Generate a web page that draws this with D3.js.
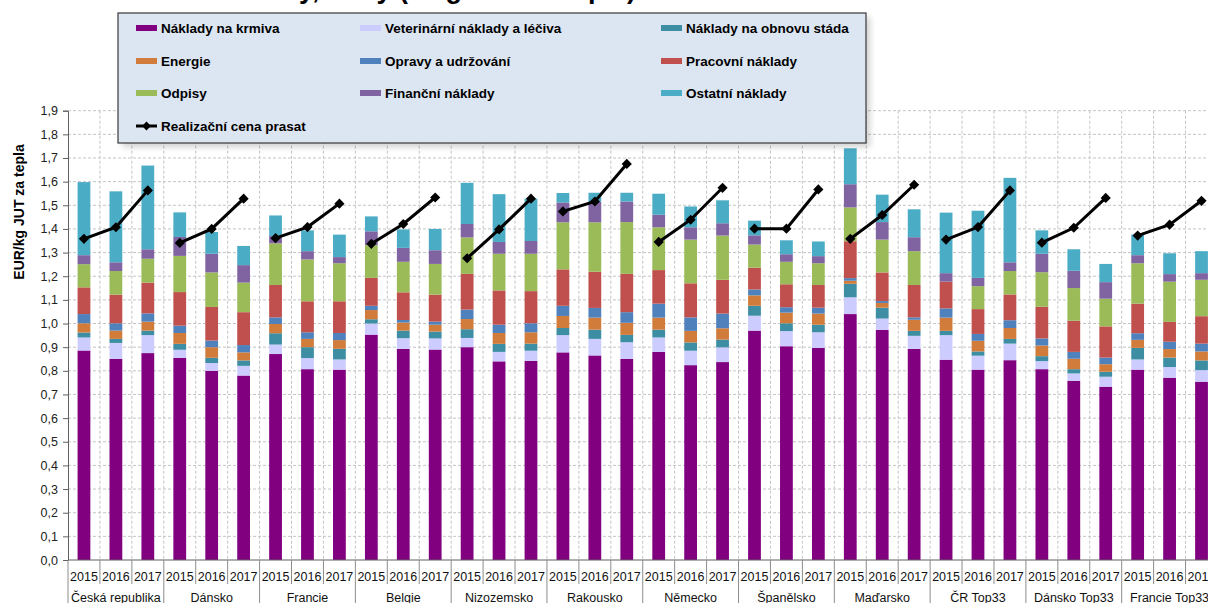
<!DOCTYPE html>
<html>
<head>
<meta charset="utf-8">
<script src="https://cdn.jsdelivr.net/npm/d3@7"></script>
<style>
  body { margin: 0; background: #fff; }
  svg { display: block; font-family: Arial, "Liberation Sans", sans-serif; }
</style>
</head>
<body>
<svg id="chart"></svg>
<script>
const width = 1208;
const height = 603;

// categories
const groups = ["Česká republika", "Dánsko", "Francie", "Belgie", "Nizozemsko", "Rakousko",
                "Německo", "Španělsko", "Maďarsko", "ČR Top33", "Dánsko Top33", "Francie Top33"];
const years = ["2015", "2016", "2017"];

// series values (EUR/kg JUT), one per bar, group by group
const krmiva    = [0.886,0.850,0.875, 0.855,0.800,0.780, 0.871,0.807,0.805, 0.953,0.893,0.890, 0.900,0.840,0.842, 0.878,0.865,0.850, 0.880,0.824,0.837, 0.970,0.904,0.897, 1.040,0.973,0.893, 0.847,0.805,0.845, 0.807,0.758,0.733, 0.805,0.771,0.754];
const veterina  = [0.055,0.068,0.076, 0.034,0.033,0.041, 0.040,0.047,0.043, 0.047,0.045,0.047, 0.039,0.040,0.043, 0.073,0.070,0.071, 0.061,0.061,0.062, 0.063,0.064,0.066, 0.071,0.048,0.055, 0.104,0.059,0.070, 0.034,0.031,0.042, 0.043,0.045,0.049];
const obnova    = [0.021,0.017,0.019, 0.025,0.022,0.023, 0.048,0.046,0.045, 0.018,0.032,0.029, 0.037,0.034,0.030, 0.030,0.039,0.031, 0.033,0.035,0.033, 0.042,0.033,0.032, 0.057,0.046,0.021, 0.018,0.018,0.020, 0.021,0.018,0.021, 0.049,0.040,0.041];
const energie   = [0.039,0.035,0.038, 0.046,0.045,0.034, 0.039,0.035,0.037, 0.039,0.034,0.029, 0.043,0.046,0.048, 0.051,0.051,0.051, 0.051,0.049,0.048, 0.044,0.045,0.047, 0.013,0.020,0.047, 0.056,0.045,0.046, 0.045,0.044,0.032, 0.034,0.036,0.038];
const opravy    = [0.039,0.031,0.035, 0.031,0.028,0.031, 0.028,0.028,0.030, 0.018,0.011,0.013, 0.040,0.035,0.038, 0.043,0.041,0.045, 0.059,0.057,0.062, 0.025,0.023,0.025, 0.011,0.008,0.010, 0.039,0.029,0.033, 0.030,0.029,0.028, 0.028,0.031,0.033];
const pracovni  = [0.113,0.121,0.130, 0.142,0.142,0.139, 0.137,0.131,0.134, 0.118,0.117,0.114, 0.151,0.145,0.136, 0.154,0.153,0.162, 0.142,0.144,0.143, 0.092,0.097,0.096, 0.156,0.121,0.137, 0.113,0.105,0.109, 0.134,0.132,0.132, 0.125,0.084,0.116];
const odpisy    = [0.098,0.100,0.101, 0.153,0.146,0.125, 0.176,0.177,0.161, 0.138,0.129,0.130, 0.154,0.155,0.158, 0.199,0.209,0.219, 0.181,0.185,0.187, 0.098,0.095,0.092, 0.143,0.139,0.143, 0.000,0.097,0.099, 0.146,0.138,0.117, 0.171,0.170,0.154];
const financni  = [0.038,0.037,0.040, 0.080,0.079,0.074, 0.031,0.035,0.026, 0.059,0.059,0.058, 0.057,0.050,0.054, 0.084,0.088,0.087, 0.053,0.052,0.052, 0.039,0.032,0.030, 0.098,0.074,0.059, 0.036,0.035,0.037, 0.078,0.073,0.070, 0.034,0.032,0.028];
const ostatni   = [0.309,0.300,0.354, 0.104,0.092,0.081, 0.087,0.088,0.095, 0.063,0.078,0.090, 0.174,0.202,0.179, 0.040,0.037,0.037, 0.089,0.088,0.097, 0.062,0.059,0.062, 0.152,0.116,0.118, 0.256,0.284,0.357, 0.099,0.091,0.077, 0.087,0.088,0.093];
const cenaPrasat = [1.358,1.407,1.563, 1.341,1.400,1.528, 1.361,1.408,1.507, 1.337,1.421,1.533, 1.276,1.398,1.528, 1.474,1.516,1.675, 1.345,1.439,1.574, 1.401,1.401,1.567, 1.358,1.459,1.587, 1.355,1.408,1.563, 1.342,1.405,1.531, 1.372,1.418,1.519];

const seriesNames = ["Náklady na krmiva", "Veterinární náklady a léčiva", "Náklady na obnovu stáda",
                     "Energie", "Opravy a udržování", "Pracovní náklady",
                     "Odpisy", "Finanční náklady", "Ostatní náklady"];
const seriesValues = [krmiva, veterina, obnova, energie, opravy, pracovni, odpisy, financni, ostatni];
const seriesColors = ["#800080", "#ccccff", "#3d8ea3", "#d27c3b", "#4f81bd", "#c0504d", "#9bbb59", "#8064a2", "#4bacc6"];
const lineName = "Realizační cena prasat";
const yTicks = [0, 0.1, 0.2, 0.3, 0.4, 0.5, 0.6, 0.7, 0.8, 0.9, 1.0, 1.1, 1.2, 1.3, 1.4, 1.5, 1.6, 1.7, 1.8, 1.9];

const plotLeft = 68;
const step = 31.93;
const plotRight = plotLeft + step * groups.length * years.length;
const plotTop = 110.7;
const plotBottom = 560;

var svg = d3.select("#chart")
            .attr("width", width)
            .attr("height", height);

svg.append("rect").attr("width", width).attr("height", height).attr("fill", "#fff");

// one row per bar
var rows = [];
groups.forEach((g, gi) => {
    years.forEach((yr, yi) => {
        var i = gi * years.length + yi;
        var row = { idx: i, group: g, year: yr, price: cenaPrasat[i] };
        seriesNames.forEach((s, si) => row[s] = seriesValues[si][i]);
        rows.push(row);
    });
});

var x = d3.scaleBand()
          .domain(rows.map(d => d.idx))
          .range([plotLeft, plotRight])
          .paddingInner(0.6)
          .paddingOuter(0.3);

var y = d3.scaleLinear()
          .domain([0, 1.9])
          .range([plotBottom, plotTop]);

//title, cut off by the top edge and mostly hidden behind the legend
svg.append("text")
    .attr("x", 636)
    .attr("y", -2)
    .attr("text-anchor", "end")
    .attr("font-size", 27)
    .attr("font-weight", "bold")
    .attr("fill", "#000")
    .text("Náklady, tržby (€/kg JUT za tepla)");

//grid
var grid = svg.append("g");
grid.selectAll(".hgrid")
    .data(yTicks.slice(1))
    .enter().append("line")
    .attr("x1", plotLeft).attr("x2", plotRight)
    .attr("y1", d => y(d)).attr("y2", d => y(d))
    .attr("stroke", "#c4c4c4")
    .attr("stroke-dasharray", "3,2");
grid.selectAll(".vgrid")
    .data(rows.slice(1))
    .enter().append("line")
    .attr("x1", d => x(d.idx) - x.step() * x.paddingInner() / 2)
    .attr("x2", d => x(d.idx) - x.step() * x.paddingInner() / 2)
    .attr("y1", plotTop).attr("y2", plotBottom)
    .attr("stroke", "#c4c4c4")
    .attr("stroke-dasharray", "3,2");

//stacked bars
var stack = d3.stack().keys(seriesNames);
var layers = stack(rows);

svg.append("g")
    .selectAll("g")
    .data(layers)
    .enter().append("g")
    .attr("fill", (d, i) => seriesColors[i])
    .selectAll("rect")
    .data(d => d)
    .enter().append("rect")
    .attr("x", d => x(d.data.idx))
    .attr("width", x.bandwidth())
    .attr("y", d => y(d[1]))
    .attr("height", d => Math.max(0, y(d[0]) - y(d[1])));

//price line, one per group
var line = d3.line()
             .x(d => x(d.idx) + x.bandwidth() / 2)
             .y(d => y(d.price));

var priceG = svg.append("g");
groups.forEach(g => {
    var pts = rows.filter(r => r.group === g);
    priceG.append("path")
        .attr("d", line(pts))
        .attr("fill", "none")
        .attr("stroke", "#000")
        .attr("stroke-width", 3);
    priceG.selectAll(null)
        .data(pts)
        .enter().append("path")
        .attr("d", d3.symbol(d3.symbolDiamond2, 66))
        .attr("transform", d => `translate(${x(d.idx) + x.bandwidth() / 2},${y(d.price)})`)
        .attr("fill", "#000");
});

//y axis
var yAxis = d3.axisLeft(y)
              .tickValues(yTicks)
              .tickSize(5)
              .tickFormat(d => d3.format(".1f")(d).replace(".", ","));
var yG = svg.append("g")
    .attr("transform", `translate(${plotLeft},0)`)
    .call(yAxis);
yG.select(".domain").attr("stroke", "#606060");
yG.selectAll(".tick line").attr("stroke", "#606060");
yG.selectAll(".tick text")
    .attr("font-size", 12.5)
    .attr("fill", "#222")
    .attr("font-family", "Arial, 'Liberation Sans', sans-serif")
    .attr("x", -10);

svg.append("text")
    .attr("transform", "translate(19,212) rotate(-90)")
    .attr("text-anchor", "middle")
    .attr("dominant-baseline", "central")
    .attr("font-size", 14)
    .attr("font-weight", "bold")
    .attr("fill", "#000")
    .text("EUR/kg JUT za tepla");

//x axis: years and groups
svg.append("line")
    .attr("x1", plotLeft).attr("x2", plotRight)
    .attr("y1", plotBottom).attr("y2", plotBottom)
    .attr("stroke", "#606060");

var xG = svg.append("g");
xG.selectAll(".year")
    .data(rows)
    .enter().append("text")
    .attr("x", d => x(d.idx) + x.bandwidth() / 2)
    .attr("y", 581)
    .attr("text-anchor", "middle")
    .attr("font-size", 12.5)
    .attr("fill", "#111")
    .text(d => d.year);

xG.selectAll(".sep")
    .data(rows)
    .enter().append("line")
    .attr("x1", d => x(d.idx) - x.step() * x.paddingInner() / 2)
    .attr("x2", d => x(d.idx) - x.step() * x.paddingInner() / 2)
    .attr("y1", plotBottom)
    .attr("y2", d => (d.idx % years.length === 0) ? height : 584)
    .attr("stroke", "#8c8c8c");

xG.selectAll(".grp")
    .data(groups)
    .enter().append("text")
    .attr("x", (g, gi) => x(gi * 3 + 1) + x.bandwidth() / 2)
    .attr("y", 602)
    .attr("text-anchor", "middle")
    .attr("font-size", 12.5)
    .attr("fill", "#111")
    .text(g => g);

//legend
var defs = svg.append("defs");
var blur = defs.append("filter").attr("id", "shadow").attr("x", "-10%").attr("y", "-10%").attr("width", "130%").attr("height", "140%");
blur.append("feGaussianBlur").attr("stdDeviation", 3);

var legend = svg.append("g").attr("transform", "translate(118,13)");
legend.append("rect")
    .attr("x", 4).attr("y", 4)
    .attr("width", 748).attr("height", 130)
    .attr("fill", "#000").attr("opacity", 0.18)
    .attr("filter", "url(#shadow)");
legend.append("rect")
    .attr("width", 748).attr("height", 130)
    .attr("fill", "#dce6f2")
    .attr("stroke", "#3a3a3a")
    .attr("stroke-width", 1.2);

const legendCols = [18, 242, 543];
const legendRows = [15, 48, 80, 113];

seriesNames.forEach((s, i) => {
    var item = legend.append("g")
        .attr("transform", `translate(${legendCols[i % 3]},${legendRows[Math.floor(i / 3)]})`);
    item.append("rect")
        .attr("x", 0).attr("y", -3)
        .attr("width", 21).attr("height", 6)
        .attr("fill", seriesColors[i]);
    item.append("text")
        .attr("x", 25).attr("y", 5)
        .attr("font-size", 13.5)
        .attr("font-weight", "bold")
        .attr("fill", "#000")
        .text(s);
});

var lineItem = legend.append("g").attr("transform", `translate(${legendCols[0]},${legendRows[3]})`);
lineItem.append("line")
    .attr("x1", 0).attr("x2", 21)
    .attr("stroke", "#000").attr("stroke-width", 3);
lineItem.append("path")
    .attr("d", d3.symbol(d3.symbolDiamond2, 50))
    .attr("transform", "translate(10.5,0)");
lineItem.append("text")
    .attr("x", 25).attr("y", 5)
    .attr("font-size", 13.5)
    .attr("font-weight", "bold")
    .attr("fill", "#000")
    .text(lineName);
</script>
</body>
</html>
